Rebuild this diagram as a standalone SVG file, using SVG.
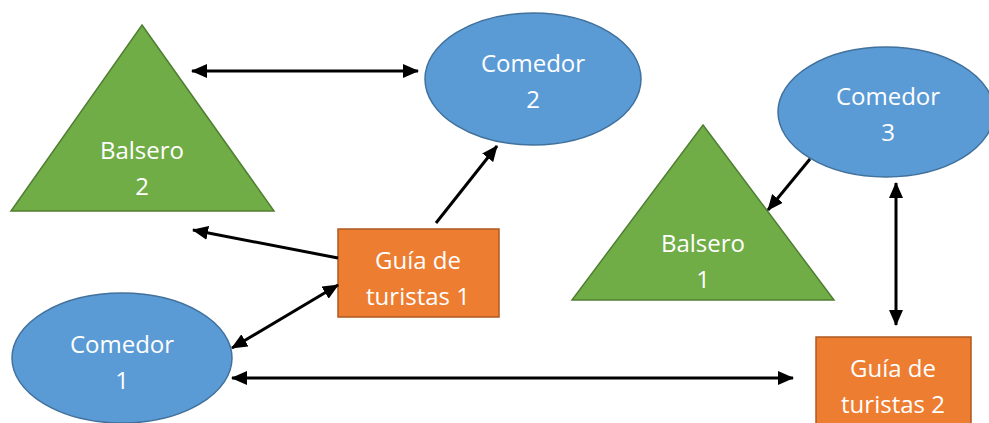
<svg xmlns="http://www.w3.org/2000/svg" width="989" height="423" viewBox="0 0 989 423">
<style>
.tri{fill:#70AD47;stroke:#507E32;stroke-width:1.5}
.ell{fill:#5B9BD5;stroke:#41719C;stroke-width:1.5}
.box{fill:#ED7D31;stroke:#AE5A21;stroke-width:1.5}
.lbl{fill:#fff;font-family:"Open Sans","Noto Sans",sans-serif;font-size:24px;text-anchor:middle}
.con{stroke:#000;stroke-width:3;fill:none}
</style>
<defs>
<marker id="ah" markerUnits="userSpaceOnUse" markerWidth="16" markerHeight="14" refX="15" refY="7" orient="auto-start-reverse">
<path d="M0,0 L16,7 L0,14 Z" fill="#000"/>
</marker>
</defs>
<rect width="989" height="423" fill="#fff"/>
<g id="balsero2">
<polygon class="tri" points="142,25 274,211 11,211"/>
<text class="lbl" x="142" y="159">Balsero</text>
<text class="lbl" x="142" y="195">2</text>
</g>
<g id="comedor2">
<ellipse class="ell" cx="533" cy="79" rx="108" ry="66"/>
<text class="lbl" x="533" y="72">Comedor</text>
<text class="lbl" x="533" y="108">2</text>
</g>
<g id="comedor3">
<ellipse class="ell" cx="886" cy="112" rx="108" ry="65"/>
<text class="lbl" x="888" y="105">Comedor</text>
<text class="lbl" x="888" y="141">3</text>
</g>
<g id="balsero1">
<polygon class="tri" points="703,125 834,300 572,300"/>
<text class="lbl" x="703" y="252">Balsero</text>
<text class="lbl" x="703" y="288">1</text>
</g>
<g id="comedor1">
<ellipse class="ell" cx="122" cy="358" rx="110" ry="65"/>
<text class="lbl" x="122" y="353">Comedor</text>
<text class="lbl" x="122" y="389">1</text>
</g>
<g id="guia1">
<rect class="box" x="338" y="229" width="161" height="88"/>
<text class="lbl" x="418" y="269">Guía de</text>
<text class="lbl" x="418" y="305">turistas 1</text>
</g>
<g id="guia2">
<rect class="box" x="816" y="337" width="155" height="100"/>
<text class="lbl" x="893" y="377">Guía de</text>
<text class="lbl" x="893" y="413">turistas 2</text>
</g>
<g id="connectors">
<line class="con" x1="192" y1="71" x2="418" y2="71" marker-start="url(#ah)" marker-end="url(#ah)"/>
<line class="con" x1="436" y1="223" x2="497" y2="146" marker-end="url(#ah)"/>
<line class="con" x1="338" y1="258" x2="193" y2="230" marker-end="url(#ah)"/>
<line class="con" x1="232" y1="348" x2="338" y2="285" marker-start="url(#ah)" marker-end="url(#ah)"/>
<line class="con" x1="232" y1="378" x2="793" y2="378" marker-start="url(#ah)" marker-end="url(#ah)"/>
<line class="con" x1="810" y1="159" x2="768" y2="210" marker-end="url(#ah)"/>
<line class="con" x1="896" y1="183" x2="896" y2="325" marker-start="url(#ah)" marker-end="url(#ah)"/>
</g>
</svg>
